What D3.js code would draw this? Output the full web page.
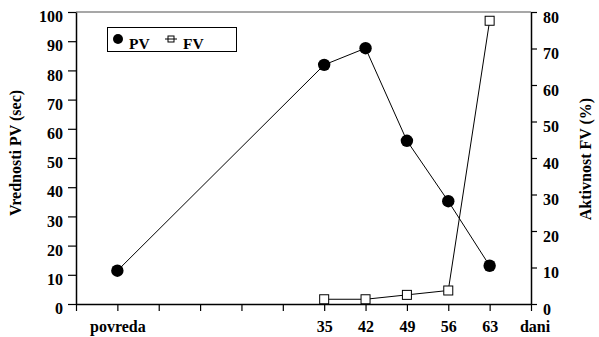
<!DOCTYPE html>
<html>
<head>
<meta charset="utf-8">
<script src="https://cdn.jsdelivr.net/npm/d3@7/dist/d3.min.js"></script>
<style>
  html, body { margin: 0; padding: 0; background: #fff; }
  svg { display: block; }
  text { font-family: "Liberation Serif", "Times New Roman", serif; font-weight: bold; fill: #000; }
</style>
</head>
<body>
<svg id="chart" width="599" height="337"></svg>
<script>
// ---- data ----
const xSlots = ["", "povreda", "", "", "", "", "35", "42", "49", "56", "63", ""];
const xUnit = "dani";
const days = ["povreda", "35", "42", "49", "56", "63"];
const pvValues = [11.4, 81.9, 87.6, 55.9, 35.2, 13.1];
const fvDays = ["35", "42", "49", "56", "63"];
const fvValues = [1.3, 1.3, 2.5, 3.7, 77.6];
const leftTicks = [0, 10, 20, 30, 40, 50, 60, 70, 80, 90, 100];
const rightTicks = [0, 10, 20, 30, 40, 50, 60, 70, 80];
const leftTitle = "Vrednosti PV (sec)";
const rightTitle = "Aktivnost FV (%)";
const seriesNames = ["PV", "FV"];

// ---- layout ----
const L = 76, R = 531, T = 12, B = 304;
const svg = d3.select("#chart");

const x = d3.scaleLinear().domain([0, xSlots.length - 1]).range([L, R]);
const xi = d => xSlots.indexOf(d);
const yL = d3.scaleLinear().domain([0, 100]).range([B, T]);
const yR = d3.scaleLinear().domain([0, 80]).range([B, T]);

// top border
svg.append("line").attr("x1", L).attr("x2", R).attr("y1", T).attr("y2", T)
  .attr("stroke", "#8a8a8a").attr("stroke-width", 1.5);

// left axis
const gL = svg.append("g").attr("transform", `translate(${L},0)`)
  .call(d3.axisLeft(yL).tickValues(leftTicks).tickSizeInner(8).tickSizeOuter(0).tickPadding(5));
gL.selectAll("text").attr("font-size", 16).attr("dy", "0.6em");

// right axis
const gR = svg.append("g").attr("transform", `translate(${R},0)`)
  .call(d3.axisRight(yR).tickValues(rightTicks).tickSizeInner(6).tickSizeOuter(0).tickPadding(6));
gR.selectAll("text").attr("font-size", 16).attr("dy", "0.65em");

// bottom axis
const gB = svg.append("g").attr("transform", `translate(0,${B})`)
  .call(d3.axisBottom(x).tickValues(d3.range(xSlots.length)).tickFormat(i => xSlots[i])
    .tickSizeInner(7).tickSizeOuter(0).tickPadding(6));
gB.selectAll("text").attr("font-size", 16).attr("y", 17).attr("dy", "0.71em");

[gL, gR, gB].forEach(g => {
  g.selectAll(".domain").attr("stroke", "#000").attr("stroke-width", 1.5);
  g.selectAll(".tick line").attr("stroke", "#000").attr("stroke-width", 1.2);
  g.attr("font-family", null).attr("font-size", null);
});

svg.append("text").attr("x", x(xSlots.length - 1) + 4).attr("y", B + 28)
  .attr("text-anchor", "middle").attr("font-size", 16).text(xUnit);

// axis titles
svg.append("text").attr("transform", "translate(21,153) rotate(-90)")
  .attr("text-anchor", "middle").attr("font-size", 16).text(leftTitle);
svg.append("text").attr("transform", "translate(591,159) rotate(-90)")
  .attr("text-anchor", "middle").attr("font-size", 16).text(rightTitle);

// PV line
const pvData = days.map((d, i) => ({ d, v: pvValues[i] }));
svg.append("path").datum(pvData)
  .attr("fill", "none").attr("stroke", "#000").attr("stroke-width", 1)
  .attr("d", d3.line().x(p => x(xi(p.d))).y(p => yL(p.v)));
svg.selectAll(".pv").data(pvData).join("circle")
  .attr("cx", p => x(xi(p.d))).attr("cy", p => yL(p.v)).attr("r", 6.2).attr("fill", "#000");

// FV line
const fvData = fvDays.map((d, i) => ({ d, v: fvValues[i] }));
svg.append("path").datum(fvData)
  .attr("fill", "none").attr("stroke", "#000").attr("stroke-width", 1)
  .attr("d", d3.line().x(p => x(xi(p.d))).y(p => yR(p.v)));
svg.selectAll(".fv").data(fvData).join("rect")
  .attr("x", p => x(xi(p.d)) - 4.5).attr("y", p => yR(p.v) - 4.5)
  .attr("width", 9).attr("height", 9)
  .attr("fill", "#fff").attr("stroke", "#000").attr("stroke-width", 1);

// legend
const lg = svg.append("g");
lg.append("rect").attr("x", 107.5).attr("y", 27.5).attr("width", 129).attr("height", 24)
  .attr("fill", "#fff").attr("stroke", "#000").attr("stroke-width", 1);
lg.append("circle").attr("cx", 118).attr("cy", 39).attr("r", 5).attr("fill", "#000");
lg.append("text").attr("x", 129).attr("y", 49).attr("font-size", 15.5).text(seriesNames[0]);
lg.append("line").attr("x1", 165).attr("x2", 177).attr("y1", 39).attr("y2", 39)
  .attr("stroke", "#000").attr("stroke-width", 1);
lg.append("rect").attr("x", 168).attr("y", 36).attr("width", 6).attr("height", 6)
  .attr("fill", "none").attr("stroke", "#000").attr("stroke-width", 1);
lg.append("text").attr("x", 183).attr("y", 49).attr("font-size", 15.5).text(seriesNames[1]);
</script>
</body>
</html>
